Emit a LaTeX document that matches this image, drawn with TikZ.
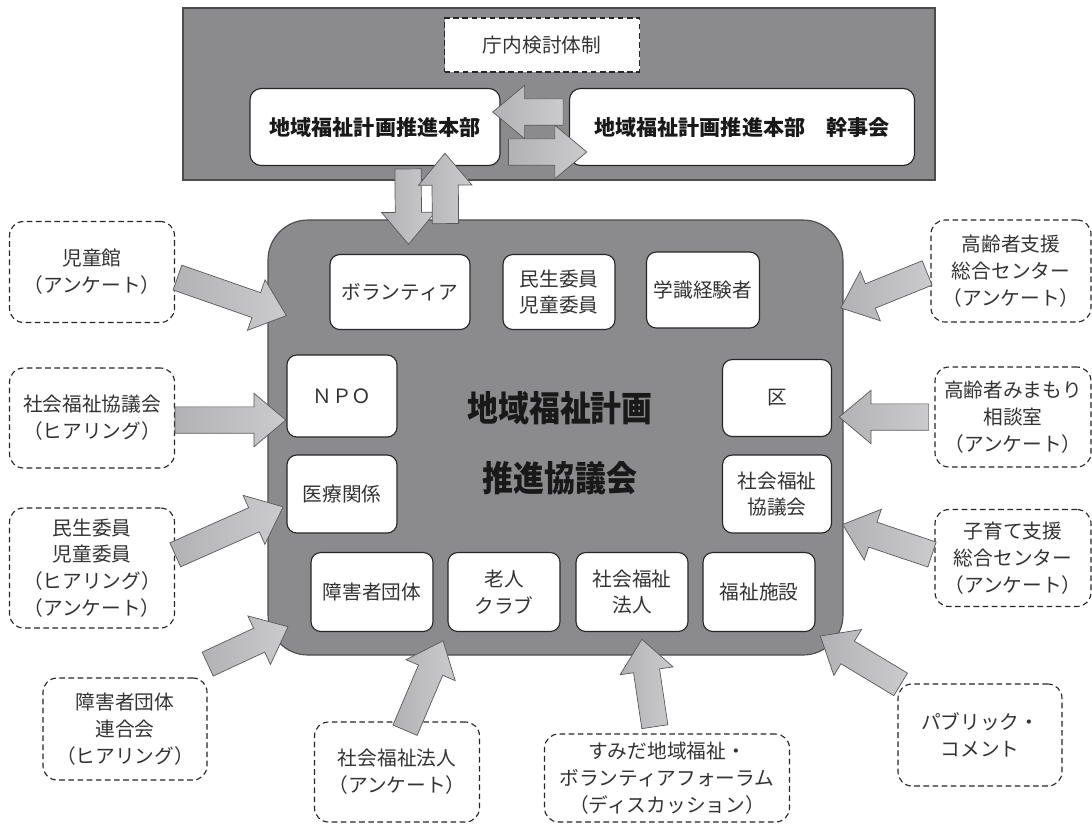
\documentclass[tikz,border=0pt]{standalone}
\usepackage{fontspec}
\newfontfamily\cjk{Noto Sans CJK JP}
\usetikzlibrary{shapes.arrows,calc}
\definecolor{boxgray}{RGB}{139,139,142}
\definecolor{arrowdark}{RGB}{178,178,181}
\definecolor{arrowlight}{RGB}{203,203,206}
\tikzset{
  boxsize/.style 2 args={minimum width=#1*0.025cm, minimum height=#2*0.025cm},
  member/.style={draw=black!85, fill=white, rounded corners=7pt, align=center, inner sep=0pt,
    font=\cjk\fontsize{14}{19}\selectfont, text=black!80, line width=0.8pt},
  source/.style={member, dashed, dash pattern=on 4pt off 2.5pt, rounded corners=10pt},
  headbox/.style={member, rounded corners=8pt, font=\cjk\bfseries\fontsize{15}{19}\selectfont, text=black!90},
  bigarrow/.style={single arrow, draw=black!65, line width=0.5pt, left color=arrowdark, right color=arrowlight,
    inner xsep=0pt, inner ysep=0.32cm, single arrow head extend=0.34cm, single arrow tip angle=80}
}
% block arrow from #1 to #2
\newcommand\blockarrow[2]{%
  \path let \p1=($(#2)-(#1)$), \n1={atan2(\y1,\x1)}, \n2={veclen(\x1,\y1)} in
    node[bigarrow, minimum height=\n2, rotate=\n1] at ($(#1)!0.5!(#2)$) {};}
\begin{document}
\begin{tikzpicture}[x=0.025cm, y=-0.025cm]
\useasboundingbox (0,0) rectangle (1092,825);

% office side
\node[draw=black!70, fill=boxgray, boxsize={752}{172}, line width=0.8pt] (office) at (559,94) {};
\node[source, rounded corners=0pt, boxsize={195}{54}] (kentou) at (542,45) {庁内検討体制};
\node[headbox, boxsize={250}{77}] (honbu) at (375,127) {地域福祉計画推進本部};
\node[headbox, boxsize={345}{77}] (kanji) at (742,127) {地域福祉計画推進本部　幹事会};

% council
\node[draw=black!70, fill=boxgray, rounded corners=1cm, boxsize={575}{435}, line width=0.8pt] (council) at (555.5,437.5) {};
\node[align=center, font=\cjk\bfseries\fontsize{25}{50}\selectfont, text=black!90,
  transform shape, xscale=0.88] (title) at (560,443) {地域福祉計画\\推進協議会};

\node[member, boxsize={140}{75}] (vol) at (400,292) {ボランティア};
\node[member, boxsize={112}{75}] (minsei) at (559,292) {民生委員\\児童委員};
\node[member, boxsize={113}{76}] (gakushiki) at (703,290) {学識経験者};
\node[member, boxsize={110}{82}] (npo) at (342,396) {ＮＰＯ};
\node[member, boxsize={109}{77}] (ku) at (777,398) {区};
\node[member, boxsize={110}{78}] (iryou) at (342,494) {医療関係};
\node[member, boxsize={109}{78}] (shakyo) at (777,494) {社会福祉\\協議会};
\node[member, boxsize={122}{79}] (shogai) at (372,592) {障害者団体};
\node[member, boxsize={112}{79}] (rojin) at (504,592) {老人\\クラブ};
\node[member, boxsize={112}{79}] (hojin) at (632,592) {社会福祉\\法人};
\node[member, boxsize={112}{79}] (shisetsu) at (759,592) {福祉施設};

% hearing and survey sources
\node[source, boxsize={165}{101}] (jidoukan) at (92,272) {児童館\\（アンケート）};
\node[source, boxsize={165}{100}] (shakyoL) at (92,418) {社会福祉協議会\\（ヒアリング）};
\node[source, boxsize={165}{120}] (minseiL) at (92,568) {民生委員\\児童委員\\（ヒアリング）\\（アンケート）};
\node[source, boxsize={164}{102}] (shogairen) at (125,729) {障害者団体\\連合会\\（ヒアリング）};
\node[source, boxsize={165}{100}] (hojinL) at (397,772) {社会福祉法人\\（アンケート）};
\node[source, boxsize={245}{88}] (sumida) at (667,778) {すみだ地域福祉・\\ボランティアフォーラム\\（ディスカッション）};
\node[source, boxsize={164}{102}] (public) at (980,735) {パブリック・\\コメント};
\node[source, boxsize={160}{102}] (koureiShien) at (1011,271) {高齢者支援\\総合センター\\（アンケート）};
\node[source, boxsize={156}{100}] (mimamori) at (1013,417) {高齢者みまもり\\相談室\\（アンケート）};
\node[source, boxsize={156}{97}] (kosodate) at (1013,558) {子育て支援\\総合センター\\（アンケート）};

% arrow tips on the council
\coordinate (inJidoukan) at (279,313);
\coordinate (inShakyo) at (278,420);
\coordinate (inMinsei) at (276,510);
\coordinate (inShogai) at (281,630);
\coordinate (inHojin) at (440,648);
\coordinate (inSumida) at (643,647);
\coordinate (inPublic) at (827,640);
\coordinate (inKosodate) at (850,527);
\coordinate (inMimamori) at (847,417);
\coordinate (inKourei) at (848,305);

\blockarrow{$(jidoukan.east)+(-5,3)$}{inJidoukan}
\blockarrow{$(shakyoL.east)+(-8,2)$}{inShakyo}
\blockarrow{$(minseiL.east)+(-7,-10)$}{inMinsei}
\blockarrow{$(shogairen.north east)+(-7,-10)$}{inShogai}
\blockarrow{$(hojinL.north)+(5,16)$}{inHojin}
\blockarrow{$(sumida.north)+(-11,1)$}{inSumida}
\blockarrow{$(public.north west)+(10,5)$}{inPublic}
\blockarrow{$(kosodate.west)+(5,-1)$}{inKosodate}
\blockarrow{$(mimamori.west)+(2,0)$}{inMimamori}
\blockarrow{$(koureiShien.west)+(4,-1)$}{inKourei}

% office <-> council
\blockarrow{$(honbu.south)+(33,-5)$}{$(council.north)+(-147,17)$}
\blockarrow{$(council.north)+(-110,12)$}{$(honbu.south)+(70,-5)$}
\blockarrow{$(kanji.west)+(2,-15)$}{$(honbu.east)+(0,-15)$}
\blockarrow{$(honbu.east)+(0,25)$}{$(kanji.west)+(10,25)$}
\end{tikzpicture}
\end{document}
